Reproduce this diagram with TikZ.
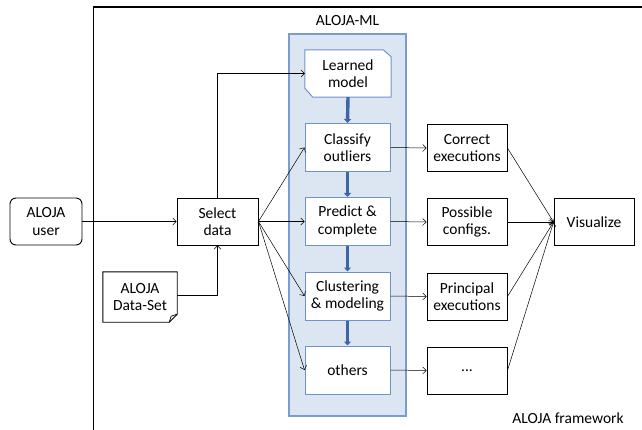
\documentclass[tikz,border=0pt]{standalone}
\usepackage{fontspec}
\setmainfont{Carlito}
\usetikzlibrary{arrows.meta}
\definecolor{mlfill}{HTML}{DCE5F2}
\definecolor{mlline}{HTML}{7A9CD0}
\definecolor{boxline}{HTML}{6F93C9}
\definecolor{thickarr}{HTML}{3D66A3}
\begin{document}
\begin{tikzpicture}[x=1pt,y=-1pt,
  every node/.style={font=\fontsize{15.5}{17.5}\selectfont, align=center, inner sep=0pt},
  blk/.style={draw=black, line width=0.9pt, fill=white, minimum width=80pt, minimum height=47pt},
  mlbox/.style={draw=boxline, line width=1pt, fill=white, minimum width=85pt, minimum height=48pt},
  conn/.style={black, line width=0.5pt, -{Straight Barb[length=3.5pt,width=7pt]}},
  flow/.style={thickarr, line width=3.4pt, -{Triangle[length=4pt,width=7pt]}}
]
\useasboundingbox (0,0) rectangle (642,430);
% framework
\draw[line width=1.8pt] (93.5,431) -- (93.5,7) -- (643,7);
\node (fw) at (568,418) {ALOJA framework};
% ALOJA-ML container
\draw[draw=mlline, line width=1.2pt, fill=mlfill] (289,34) rectangle (406,416);
\node (mltitle) at (347.5,21) {ALOJA-ML};
% left nodes
\node[blk, rounded corners=6pt, minimum width=72pt] (user) at (46,221.5) {ALOJA\\user};
\node[blk, minimum width=81pt] (select) at (217.5,221.5) {Select\\data};
\node[minimum width=74pt, minimum height=50pt] (data) at (140,297) {ALOJA\\Data-Set};
\draw[line width=0.9pt] (data.north west) -- (data.north east) -- ([yshift=8pt]data.south east) -- ([xshift=-8pt]data.south east) -- (data.south west) -- cycle;
\draw[line width=0.7pt] ([yshift=8pt]data.south east) -- ([xshift=-6pt,yshift=6pt]data.south east) -- ([xshift=-8pt]data.south east);
% ML boxes
\node[minimum width=86pt, minimum height=47pt] (learned) at (348,73.5) {Learned\\model};
\draw[draw=boxline, line width=1pt, fill=white] (learned.north west) -- ([xshift=-8pt]learned.north east) -- ([yshift=-7pt]learned.north east) -- (learned.south east) -- ([xshift=8pt]learned.south west) -- ([yshift=9pt]learned.south west) -- cycle;
\node at (learned) {Learned\\model};
\node[mlbox] (classify) at (347.5,147.5) {Classify\\outliers};
\node[mlbox] (predict) at (347.5,221.5) {Predict \&\\complete};
\node[mlbox] (cluster) at (347.5,296) {Clustering\\\& modeling};
\node[mlbox] (others) at (347.5,370) {others};
% right nodes
\node[blk] (correct) at (467,148) {Correct\\executions};
\node[blk] (possible) at (467,222) {Possible\\configs.};
\node[blk] (principal) at (467,296.5) {Principal\\executions};
\node[blk] (dots) at (467,370.5) {...};
\node[blk] (vis) at (594,222) {Visualize};
% thick flow arrows
\draw[flow] (learned.south) -- (classify.north);
\draw[flow] (classify.south) -- (predict.north);
\draw[flow] (predict.south) -- (cluster.north);
\draw[flow] (cluster.south) -- (others.north);
% connectors
\draw[conn] (user.east) -- (select.west);
\draw[conn] (data.east |- 0,295) -| (select.south);
\draw[conn] (select.north) |- (learned.west);
\draw[conn] (select.east) -- (classify.west);
\draw[conn] (select.east) -- (predict.west);
\draw[conn] (select.east) -- (cluster.west);
\draw[conn] (select.east) -- (others.west);
\draw[conn] (classify.east) -- (correct.west);
\draw[conn] (predict.east) -- (possible.west);
\draw[conn] (cluster.east) -- (principal.west);
\draw[conn] (others.east) -- (dots.west);
\draw[conn] (correct.east) -- (vis.west);
\draw[conn] (possible.east) -- (vis.west);
\draw[conn] (principal.east) -- (vis.west);
\draw[conn] (dots.east) -- (vis.west);
\end{tikzpicture}
\end{document}
